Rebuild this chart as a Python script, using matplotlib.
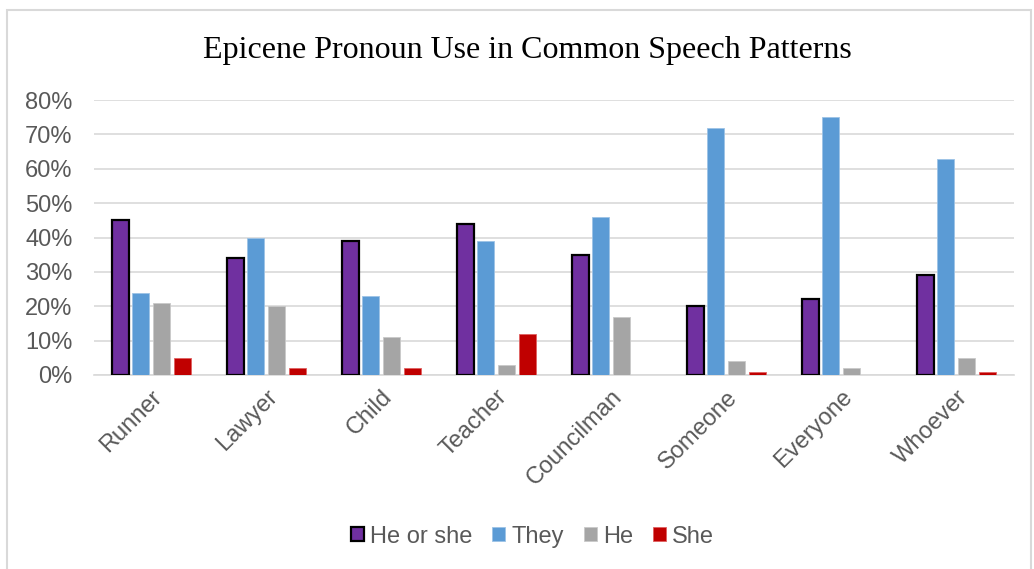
import numpy as np
import matplotlib.pyplot as plt
from matplotlib.patches import Rectangle

categories = ['Runner', 'Lawyer', 'Child', 'Teacher', 'Councilman',
              'Someone', 'Everyone', 'Whoever']
he_or_she = [45, 34, 39, 44, 35, 20, 22, 29]
they = [24, 40, 23, 39, 46, 72, 75, 63]
he = [21, 20, 11, 3, 17, 4, 2, 5]
she = [5, 2, 2, 12, 0, 1, 0, 1]

series = [
    ('He or she', he_or_she, '#7030a0', 'black', 1.6),
    ('They', they, '#5b9bd5', '#9dc3e6', 0.6),
    ('He', he, '#a5a5a5', '#c9c9c9', 0.6),
    ('She', she, '#c00000', '#e06060', 0.6),
]

fig = plt.figure(figsize=(10.34, 5.69), dpi=100)
ax = fig.add_axes([0.0905, 0.341, 0.89, 0.483])

# light border round the whole chart
fig.patches.append(Rectangle((0.007, -0.01), 0.99, 0.993, transform=fig.transFigure,
                             fill=False, edgecolor='#d9d9d9', linewidth=1.5))

x = np.arange(len(categories))
w = 0.148
step = 0.18
for i, (name, vals, color, edge, lw) in enumerate(series):
    ax.bar(x + (i - 1.5) * step, np.array(vals) / 100, w, color=color,
           edgecolor=edge, linewidth=lw, label=name, zorder=3)

ax.set_xlim(-0.5, len(categories) - 0.5)
ax.set_ylim(0, 0.8)
ax.set_yticks(np.arange(0, 0.81, 0.1))
ax.set_yticklabels([f'{int(round(v * 100))}%' for v in np.arange(0, 0.81, 0.1)])
ax.set_xticks(x)
ax.set_xticklabels(categories, rotation=45, ha='right', rotation_mode='anchor')

ax.grid(axis='y', color='#d9d9d9', linewidth=1.2, zorder=0)
for s in ['top', 'right', 'left']:
    ax.spines[s].set_visible(False)
ax.spines['bottom'].set_color('#d9d9d9')
ax.spines['bottom'].set_linewidth(1.2)
ax.tick_params(axis='both', length=0, colors='#595959', labelsize=17)
ax.tick_params(axis='y', pad=15)
ax.tick_params(axis='x', pad=8)
for lab in ax.get_xticklabels() + ax.get_yticklabels():
    lab.set_fontfamily('Liberation Sans')

fig.text(0.51, 0.912, 'Epicene Pronoun Use in Common Speech Patterns',
         ha='center', va='center', fontsize=23, fontfamily='Liberation Serif')

leg = fig.legend(loc='center', bbox_to_anchor=(0.515, 0.057), ncol=4, frameon=False,
                 prop={'family': 'Liberation Sans', 'size': 17},
                 handlelength=0.55, handleheight=0.55, handletextpad=0.25, columnspacing=0.85)
for t in leg.get_texts():
    t.set_color('#595959')

fig.savefig('out.png', dpi=100)
